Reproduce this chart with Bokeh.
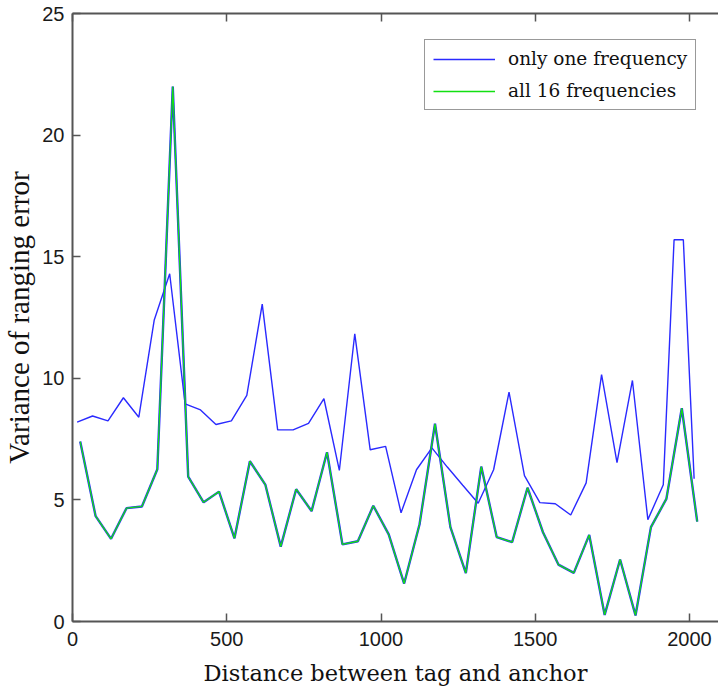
from bokeh.plotting import figure
from bokeh.models import Range1d, FixedTicker, LinearAxis, Legend, LegendItem
from bokeh.embed import file_html
from bokeh.resources import INLINE

# ---- data ----
dist_one = [15, 65, 115, 165, 215, 265, 315, 365, 415, 465, 515, 565, 615, 665,
            715, 765, 815, 865, 915, 965, 1015, 1065, 1115, 1165, 1215, 1265,
            1315, 1365, 1415, 1465, 1515, 1565, 1615, 1665, 1715, 1765, 1815,
            1865, 1915, 1950, 1980, 2015]
var_one = [8.2, 8.45, 8.25, 9.2, 8.4, 12.4, 14.3, 8.95, 8.7, 8.1, 8.25, 9.3,
           13.05, 7.88, 7.88, 8.15, 9.16, 6.21, 11.83, 7.06, 7.2, 4.47, 6.24,
           7.14, 6.35, 5.6, 4.86, 6.24, 9.43, 6.0, 4.89, 4.84, 4.38, 5.7, 10.15,
           6.53, 9.91, 4.19, 5.62, 15.7, 15.7, 5.87]

dist_all = [25, 75, 125, 175, 225, 275, 325, 375, 425, 475, 525, 575, 625, 675,
            725, 775, 825, 875, 925, 975, 1025, 1075, 1125, 1175, 1225, 1275,
            1325, 1375, 1425, 1475, 1525, 1575, 1625, 1675, 1725, 1775, 1825,
            1875, 1925, 1975, 2025]
var_all = [7.4, 4.33, 3.4, 4.66, 4.73, 6.26, 22.0, 5.96, 4.9, 5.34, 3.42, 6.59,
           5.63, 3.08, 5.44, 4.54, 6.96, 3.17, 3.3, 4.76, 3.58, 1.56, 4.0, 8.13,
           3.88, 1.99, 6.37, 3.47, 3.26, 5.5, 3.67, 2.34, 2.0, 3.56, 0.27, 2.55,
           0.25, 3.88, 5.04, 8.77, 4.11]

x_ticks = [0, 500, 1000, 1500, 2000]
y_ticks = [0, 5, 10, 15, 20, 25]
series_labels = ["only one frequency", "all 16 frequencies"]
x_title = "Distance between tag and anchor"
y_title = "Variance of ranging error"

BLUE = "#2a2aff"
GREEN = "#12e012"
AXIS = "#555555"

p = figure(width=718, height=692, output_backend="svg", toolbar_location=None,
           x_range=Range1d(0, 2094), y_range=Range1d(0, 25),
           x_axis_location=None, y_axis_location=None,
           min_border_left=72, min_border_right=0, min_border_top=13,
           min_border_bottom=71)
p.outline_line_color = None
p.grid.visible = False
p.background_fill_color = "white"
p.border_fill_color = "white"

def style_axis(ax, labels=True):
    ax.axis_line_color = AXIS
    ax.axis_line_width = 2
    ax.major_tick_line_color = AXIS
    ax.major_tick_line_width = 1.5
    ax.major_tick_in = 8
    ax.major_tick_out = 0
    ax.minor_tick_line_color = None
    if labels:
        ax.major_label_text_font = "Liberation Sans"
        ax.major_label_text_font_size = "20px"
        ax.major_label_text_color = "#1a1a1a"
    else:
        ax.major_label_overrides = {t: "" for t in x_ticks}
        ax.major_label_standoff = 0

xb = LinearAxis(ticker=FixedTicker(ticks=x_ticks), axis_label=x_title)
style_axis(xb)
xb.major_label_standoff = 10
xb.axis_label_text_font = "DejaVu Serif"
xb.axis_label_text_font_size = "22.5px"
xb.axis_label_text_font_style = "normal"
xb.axis_label_text_color = "#111111"
xb.axis_label_standoff = 11
p.add_layout(xb, "below")

yl = LinearAxis(ticker=FixedTicker(ticks=y_ticks), axis_label=y_title)
style_axis(yl)
yl.major_label_standoff = 8
yl.axis_label_text_font = "Liberation Serif"
yl.axis_label_text_font_size = "29px"
yl.axis_label_text_font_style = "normal"
yl.axis_label_text_color = "#111111"
yl.axis_label_standoff = 4
p.add_layout(yl, "left")

xt = LinearAxis(ticker=FixedTicker(ticks=x_ticks))
style_axis(xt, labels=False)
p.add_layout(xt, "above")

# series (green drawn over a blue edge, as in the reference)
r_one = p.line(dist_one, var_one, line_color=BLUE, line_width=1.4)
p.line(dist_all, var_all, line_color=BLUE, line_width=2.4)
r_all = p.line(dist_all, var_all, line_color=GREEN, line_width=1.3)

legend = Legend(items=[LegendItem(label=series_labels[0], renderers=[r_one]),
                       LegendItem(label=series_labels[1], renderers=[r_all])],
                location=(352, 511))
legend.border_line_color = "#333333"
legend.border_line_width = 1
legend.background_fill_color = "white"
legend.background_fill_alpha = 1
legend.label_text_font = "DejaVu Serif"
legend.label_text_font_size = "18.5px"
legend.label_text_color = "#111111"
legend.glyph_width = 62
legend.glyph_height = 18
legend.label_height = 18
legend.label_standoff = 13
legend.spacing = 11
legend.padding = 8
legend.margin = 0
p.add_layout(legend, "center")

open("out.html", "w").write(file_html(p, INLINE))
